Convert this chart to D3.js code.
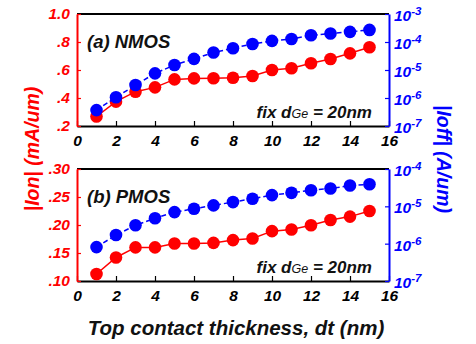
<!DOCTYPE html>
<html>
<head>
<meta charset="utf-8">
<script src="https://cdn.jsdelivr.net/npm/d3@7"></script>
<style>
  html, body { margin: 0; padding: 0; background: #fff; }
  svg { display: block; font-family: "Liberation Sans", Arial, sans-serif; font-weight: bold; font-style: italic; }
</style>
</head>
<body>
<svg id="chart" width="476" height="344"></svg>
<script>
// Top contact thickness dt (nm)
const thickness = [1, 2, 3, 4, 5, 6, 7, 8, 9, 10, 11, 12, 13, 14, 15];

// (a) NMOS
const nmosIon  = [0.268, 0.374, 0.445, 0.476, 0.533, 0.540, 0.541, 0.545, 0.557, 0.600, 0.612, 0.648, 0.679, 0.719, 0.762];
const nmosIoff = [3.7e-7, 1.06e-6, 2.9e-6, 7.6e-6, 1.5e-5, 2.5e-5, 4.2e-5, 6.0e-5, 8.5e-5, 1.1e-4, 1.28e-4, 1.74e-4, 2.0e-4, 2.3e-4, 2.7e-4];

// (b) PMOS
const pmosIon  = [0.1125, 0.142, 0.160, 0.160, 0.167, 0.167, 0.168, 0.173, 0.176, 0.189, 0.192, 0.1995, 0.209, 0.215, 0.225];
const pmosIoff = [8.1e-7, 1.7e-6, 3.1e-6, 4.8e-6, 7.0e-6, 8.6e-6, 1.06e-5, 1.3e-5, 1.6e-5, 2.0e-5, 2.3e-5, 2.7e-5, 3.0e-5, 3.6e-5, 3.9e-5];

// Tick values
const xTicks = [0, 2, 4, 6, 8, 10, 12, 14, 16];
const nmosIonTicks = [0.2, 0.4, 0.6, 0.8, 1.0];
const nmosIonTickLabels = [".2", ".4", ".6", ".8", "1.0"];
const nmosIoffExps = [-7, -6, -5, -4, -3];
const pmosIonTicks = [0.10, 0.15, 0.20, 0.25, 0.30];
const pmosIonTickLabels = [".10", ".15", ".20", ".25", ".30"];
const pmosIoffExps = [-7, -6, -5, -4];

const RED = "#ff0000", BLUE = "#0000ff";
const FONT = "Liberation Sans, Arial, sans-serif";
const svg = d3.select("#chart");

const left = 77, right = 389;
const x = d3.scaleLinear().domain([0, 16]).range([left, right]);

const panels = [
  { top: 14, bottom: 126, label: "(a) NMOS", ion: nmosIon, ioff: nmosIoff,
    ionDomain: [0.2, 1.0], ionTicks: nmosIonTicks, ionLabels: nmosIonTickLabels,
    exps: nmosIoffExps },
  { top: 169, bottom: 281, label: "(b) PMOS", ion: pmosIon, ioff: pmosIoff,
    ionDomain: [0.10, 0.30], ionTicks: pmosIonTicks, ionLabels: pmosIonTickLabels,
    exps: pmosIoffExps }
];

function styleTickText(sel, color) {
  sel.attr("font-size", 15.5).attr("fill", color).attr("font-family", FONT)
    .attr("font-weight", "bold").attr("font-style", "italic");
}

panels.forEach(p => {
  const yL = d3.scaleLinear().domain(p.ionDomain).range([p.bottom, p.top]);
  const expMin = p.exps[0], expMax = p.exps[p.exps.length - 1];
  const yR = d3.scaleLog().domain([Math.pow(10, expMin), Math.pow(10, expMax)]).range([p.bottom, p.top]);
  const g = svg.append("g");

  // top frame line
  g.append("line").attr("x1", left).attr("x2", right).attr("y1", p.top).attr("y2", p.top)
    .attr("stroke", "#000").attr("stroke-width", 2);

  // bottom axis (ticks inward)
  const xa = g.append("g").attr("transform", `translate(0,${p.bottom})`)
    .call(d3.axisBottom(x).tickValues(xTicks).tickSizeInner(-5).tickSizeOuter(0).tickPadding(9));
  xa.select(".domain").attr("stroke", "#000").attr("stroke-width", 2);
  xa.selectAll(".tick line").attr("stroke", "#000").attr("stroke-width", 1.2);
  styleTickText(xa.selectAll(".tick text"), "#000");

  // left axis (Ion)
  const la = g.append("g").attr("transform", `translate(${left},0)`)
    .call(d3.axisLeft(yL).tickValues(p.ionTicks).tickFormat((d, i) => p.ionLabels[i])
      .tickSizeInner(-4).tickSizeOuter(0).tickPadding(7));
  la.select(".domain").attr("stroke", RED).attr("stroke-width", 2);
  la.selectAll(".tick line").attr("stroke", RED).attr("stroke-width", 1.2);
  styleTickText(la.selectAll(".tick text"), RED);

  // right axis (Ioff, log)
  const ra = g.append("g").attr("transform", `translate(${right},0)`)
    .call(d3.axisRight(yR).tickValues(p.exps.map(e => Math.pow(10, e))).tickFormat("")
      .tickSizeInner(-4).tickSizeOuter(0));
  ra.select(".domain").attr("stroke", BLUE).attr("stroke-width", 2);
  ra.selectAll(".tick line").attr("stroke", BLUE).attr("stroke-width", 1.2);
  p.exps.forEach(e => {
    const t = g.append("text").attr("x", right + 5).attr("y", yR(Math.pow(10, e)) + 7)
      .attr("fill", BLUE).attr("font-size", 15.5);
    t.append("tspan").text("10");
    t.append("tspan").attr("dy", -6).attr("font-size", 11.5).text(String(e));
  });

  // Ion line + markers
  const lineL = d3.line().x((d, i) => x(thickness[i])).y(d => yL(d));
  g.append("path").datum(p.ion).attr("d", lineL).attr("fill", "none")
    .attr("stroke", RED).attr("stroke-width", 1.5);
  g.selectAll(".ion").data(p.ion).enter().append("circle")
    .attr("cx", (d, i) => x(thickness[i])).attr("cy", d => yL(d)).attr("r", 6.3)
    .attr("fill", RED);

  // Ioff line + markers
  const lineR = d3.line().x((d, i) => x(thickness[i])).y(d => yR(d));
  g.append("path").datum(p.ioff).attr("d", lineR).attr("fill", "none")
    .attr("stroke", BLUE).attr("stroke-width", 1.5).attr("stroke-dasharray", "5,3");
  g.selectAll(".ioff").data(p.ioff).enter().append("circle")
    .attr("cx", (d, i) => x(thickness[i])).attr("cy", d => yR(d)).attr("r", 6.3)
    .attr("fill", BLUE);

  // panel label
  g.append("text").attr("x", 87).attr("y", p.top + 34).attr("font-size", 18.5).attr("fill", "#111")
    .text(p.label);

  // fixed Ge thickness note
  const n = g.append("text").attr("x", 372).attr("y", p.bottom - 8).attr("text-anchor", "end")
    .attr("font-size", 17).attr("fill", "#111");
  n.append("tspan").text("fix d");
  n.append("tspan").attr("font-size", 12.5).attr("font-weight", "normal").text("Ge");
  n.append("tspan").text(" = 20nm");
});

// axis titles
svg.append("text").attr("transform", "translate(39,149) rotate(-90)").attr("text-anchor", "middle")
  .attr("font-size", 19.5).attr("fill", RED).text("|Ion| (mA/um)");
svg.append("text").attr("transform", "translate(437,159) rotate(90)").attr("text-anchor", "middle")
  .attr("font-size", 19.5).attr("fill", BLUE).text("|Ioff| (A/um)");
svg.append("text").attr("x", 236).attr("y", 335).attr("text-anchor", "middle")
  .attr("font-size", 20.5).attr("fill", "#111").text("Top contact thickness, dt (nm)");
</script>
</body>
</html>
